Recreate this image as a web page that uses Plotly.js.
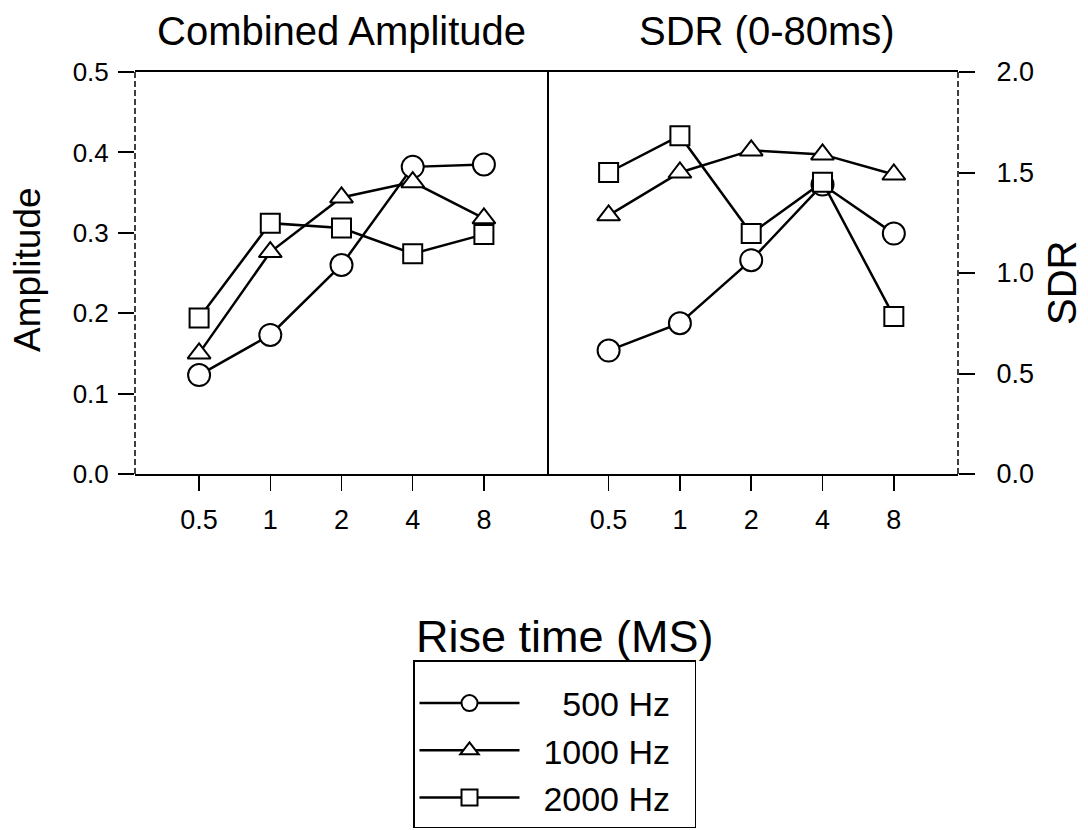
<!DOCTYPE html>
<html>
<head>
<meta charset="utf-8">
<script src="https://cdn.plot.ly/plotly-3.0.1.min.js"></script>
<style>html,body{margin:0;padding:0;background:#fff;}#chart{width:1088px;height:830px;}</style>
</head>
<body>
<div id="chart"></div>
<script>
// ---- data ----
const riseTimes = ["0.5", "1", "2", "4", "8"];
const seriesNames = ["\u00a0\u00a0\u00a0\u00a0500 Hz\u00a0\u00a0", "\u00a0\u00a01000 Hz\u00a0\u00a0", "\u00a0\u00a02000 Hz\u00a0\u00a0"];
const symbols = ["circle", "triangle-up", "square"];
const amp500 = [0.123, 0.173, 0.260, 0.382, 0.385];
const amp1000 = [0.150, 0.276, 0.344, 0.363, 0.318];
const amp2000 = [0.194, 0.312, 0.306, 0.274, 0.298];
const sdr500 = [0.614, 0.750, 1.064, 1.440, 1.196];
const sdr1000 = [1.287, 1.500, 1.610, 1.590, 1.490];
const sdr2000 = [1.500, 1.683, 1.196, 1.452, 0.784];
const ampTicks = [0, 0.1, 0.2, 0.3, 0.4, 0.5];
const sdrTicks = [0, 0.5, 1.0, 1.5, 2.0];

const FONT = "Liberation Sans, Arial, sans-serif";
const ampSeries = [amp500, amp1000, amp2000];
const sdrSeries = [sdr500, sdr1000, sdr2000];
const markerSizes = [22, 20, 19];

const traces = [];
ampSeries.forEach((vals, i) => {
  traces.push({
    x: riseTimes, y: vals, xaxis: "x", yaxis: "y",
    type: "scatter", mode: "lines+markers", name: seriesNames[i],
    line: {color: "#000", width: 2.5},
    marker: {symbol: symbols[i], size: markerSizes[i], color: "#fff", line: {color: "#000", width: 2}},
    showlegend: true, cliponaxis: false
  });
});
sdrSeries.forEach((vals, i) => {
  traces.push({
    x: riseTimes, y: vals, xaxis: "x2", yaxis: "y2",
    type: "scatter", mode: "lines+markers", name: seriesNames[i],
    line: {color: "#000", width: 2.5},
    marker: {symbol: symbols[i], size: markerSizes[i], color: "#fff", line: {color: "#000", width: 2}},
    showlegend: false, cliponaxis: false
  });
});

const L = 135, R = 958, T = 72, B = 474;
const px = v => (v - L) / (R - L);
const py = v => (B - v) / (B - T);
const split = px(548);

const commonX = {
  type: "category", range: [-0.9, 4.9], showline: true, mirror: true,
  linecolor: "#000", linewidth: 2, ticks: "outside", ticklen: 15, tickwidth: 1.5,
  tickcolor: "#000", showgrid: false, zeroline: false, ticklabelstandoff: 6,
  tickfont: {family: FONT, size: 27, color: "#000"}
};

const layout = {
  width: 1088, height: 830,
  margin: {l: L, r: 1088 - R, t: T, b: 830 - B, autoexpand: false},
  paper_bgcolor: "#fff", plot_bgcolor: "#fff",
  font: {family: FONT, color: "#000"},
  xaxis: Object.assign({}, commonX, {domain: [0, split], anchor: "y"}),
  xaxis2: Object.assign({}, commonX, {domain: [split, 1], anchor: "y2", range: [-0.85, 4.9]}),
  yaxis: {
    domain: [0, 1], range: [0, 0.5], tickvals: ampTicks, tickformat: ".1f",
    showline: false, ticks: "outside", ticklen: 16, tickwidth: 2, tickcolor: "#000",
    showgrid: false, zeroline: false, anchor: "x", ticklabelstandoff: 4,
    tickfont: {family: FONT, size: 26, color: "#000"}
  },
  yaxis2: {
    domain: [0, 1], range: [0, 2.0], tickvals: sdrTicks, tickformat: ".1f",
    side: "right", showline: false, ticks: "outside", ticklen: 16, tickwidth: 2, tickcolor: "#000",
    showgrid: false, zeroline: false, anchor: "x2", ticklabelstandoff: 16,
    tickfont: {family: FONT, size: 27, color: "#000"}
  },
  shapes: [
    {type: "line", xref: "paper", yref: "paper", x0: 0, x1: 0, y0: 0, y1: 1,
     line: {color: "#000", width: 1.5, dash: "6px,3px"}},
    {type: "line", xref: "paper", yref: "paper", x0: 1, x1: 1, y0: 0, y1: 1,
     line: {color: "#000", width: 1.5, dash: "6px,3px"}},
    {type: "line", xref: "paper", yref: "paper", x0: split, x1: split, y0: 0, y1: 1,
     line: {color: "#000", width: 2}}
  ],
  annotations: [
    {text: "Combined Amplitude", xref: "paper", yref: "paper", x: px(341), y: py(31),
     showarrow: false, font: {family: FONT, size: 40, color: "#000"}, xanchor: "center", yanchor: "middle"},
    {text: "SDR (0-80ms)", xref: "paper", yref: "paper", x: px(767), y: py(31),
     showarrow: false, font: {family: FONT, size: 40, color: "#000"}, xanchor: "center", yanchor: "middle"},
    {text: "Amplitude", xref: "paper", yref: "paper", x: px(27), y: py(270), textangle: -90,
     showarrow: false, font: {family: FONT, size: 37, color: "#000"}, xanchor: "center", yanchor: "middle"},
    {text: "SDR", xref: "paper", yref: "paper", x: px(1062), y: py(283), textangle: -90,
     showarrow: false, font: {family: FONT, size: 40, color: "#000"}, xanchor: "center", yanchor: "middle"},
    {text: "Rise time (MS)", xref: "paper", yref: "paper", x: px(565), y: py(636),
     showarrow: false, font: {family: FONT, size: 45, color: "#000"}, xanchor: "center", yanchor: "middle"}
  ],
  legend: {
    x: px(413), y: py(660), xanchor: "left", yanchor: "top",
    bordercolor: "#000", borderwidth: 1.5, bgcolor: "#fff",
    font: {family: FONT, size: 34, color: "#000"},
    title: {text: "\u00a0", font: {family: FONT, size: 10, color: "#000"}},
    itemwidth: 100, tracegroupgap: 0
  }
};

Plotly.newPlot("chart", traces, layout, {staticPlot: true, displayModeBar: false});
</script>
</body>
</html>
